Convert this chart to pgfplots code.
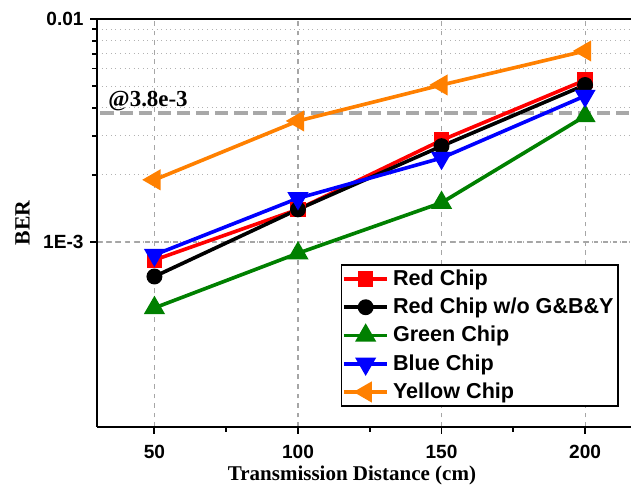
\documentclass[border=0pt]{standalone}
\usepackage{fontspec}
\setmainfont{Liberation Serif}
\newfontfamily\arial{Liberation Sans}
\usepackage{pgfplots}
\pgfplotsset{compat=1.18}
\definecolor{myred}{RGB}{255,0,0}
\definecolor{mygreen}{RGB}{0,128,0}
\definecolor{myblue}{RGB}{0,0,255}
\definecolor{myorange}{RGB}{255,128,0}
\definecolor{refgray}{RGB}{168,168,168}
\begin{document}
\begin{tikzpicture}
\begin{semilogyaxis}[
  scale only axis,
  width=279.6pt, height=213.6pt,
  xmin=30, xmax=216,
  ymin=1.48e-4, ymax=0.01,
  axis x line*=bottom, axis y line*=left,
  axis line style={line width=1.3pt,-},
  xtick={50,100,150,200},
  minor xtick={75,125,175},
  ytick={0.001,0.01},
  yticklabels={1E-3,0.01},
  tick align=outside,
  major tick length=3.5pt, minor tick length=2.5pt,
  every tick/.style={black, line width=1pt},
  tick label style={font=\arial\bfseries\fontsize{10}{12}\selectfont},
  xticklabel style={yshift=-2.3pt},
  /pgf/number format/assume math mode=true,
  xlabel={\textbf{Transmission Distance (cm)}},
  ylabel={\textbf{BER}},
  every axis x label/.style={at={(rel axis cs:0.5,0)}, xshift=-6.3pt, yshift=-20.4pt, anchor=north, inner sep=0pt, font=\fontsize{11}{13}\selectfont},
  every axis y label/.style={at={(rel axis cs:0,0.5)}, xshift=-35pt, rotate=90, anchor=south, inner sep=0pt, font=\fontsize{11.4}{13}\selectfont},
  xmajorgrids, ymajorgrids, yminorgrids,
  major grid style={gray!70, dash pattern=on 2.5pt off 2.5pt, line width=0.6pt},
  minor grid style={gray!60, dotted, line width=0.6pt},
  legend style={at={(0.9775,0.05)}, anchor=south east, draw=black, line width=0.8pt,
    font=\arial\bfseries\fontsize{11.3}{13.5}\selectfont, row sep=1.1pt, inner sep=0.4pt},
  legend cell align=left,
  legend image code/.code={\draw[mark repeat=2,mark phase=2,#1] plot coordinates {(0cm,0cm) (0.4cm,0cm) (0.8cm,0cm)};},
  clip=false,
]
\coordinate (bl) at (rel axis cs:0,0);
\coordinate (tr) at (rel axis cs:1,1);
\addplot[refgray, line width=2.2pt, dash pattern=on 7pt off 3pt, forget plot] coordinates {(31.2,0.0038) (216,0.0038)};
\addplot[myred, line width=1.9pt, mark=square*, mark size=3.1pt, mark options={solid}] coordinates {(50,8.3e-4) (100,1.4e-3) (150,2.86e-3) (200,5.32e-3)};
\addlegendentry{Red Chip}
\addplot[black, line width=1.9pt, mark=*, mark size=3.2pt] coordinates {(50,7.0e-4) (100,1.4e-3) (150,2.69e-3) (200,5.06e-3)};
\addlegendentry{Red Chip w/o G\&B\&Y}
\addplot[mygreen, line width=1.9pt, mark=triangle*, mark size=4.5pt] coordinates {(50,5.06e-4) (100,8.9e-4) (150,1.5e-3) (200,3.67e-3)};
\addlegendentry{Green Chip}
\addplot[myblue, line width=1.9pt, mark=triangle*, mark size=4.5pt, mark options={rotate=180}] coordinates {(50,8.75e-4) (100,1.57e-3) (150,2.38e-3) (200,4.52e-3)};
\addlegendentry{Blue Chip}
\addplot[myorange, line width=1.9pt, mark=triangle*, mark size=4.5pt, mark options={rotate=90}] coordinates {(50,1.9e-3) (100,3.49e-3) (150,5.06e-3) (200,7.19e-3)};
\addlegendentry{Yellow Chip}
\draw[line width=1.3pt] (rel axis cs:0,1) -- (rel axis cs:1,1);
\node[anchor=base west, font=\bfseries\fontsize{12}{14}\selectfont, inner sep=0pt] at ([xshift=5.8pt, yshift=3pt]axis cs:30,0.0038) {@3.8e-3};
\end{semilogyaxis}
\pgfresetboundingbox
\path[use as bounding box] ([xshift=-50.8pt, yshift=-30.9pt]bl) rectangle ([yshift=9.95pt]tr);
\end{tikzpicture}
\end{document}
